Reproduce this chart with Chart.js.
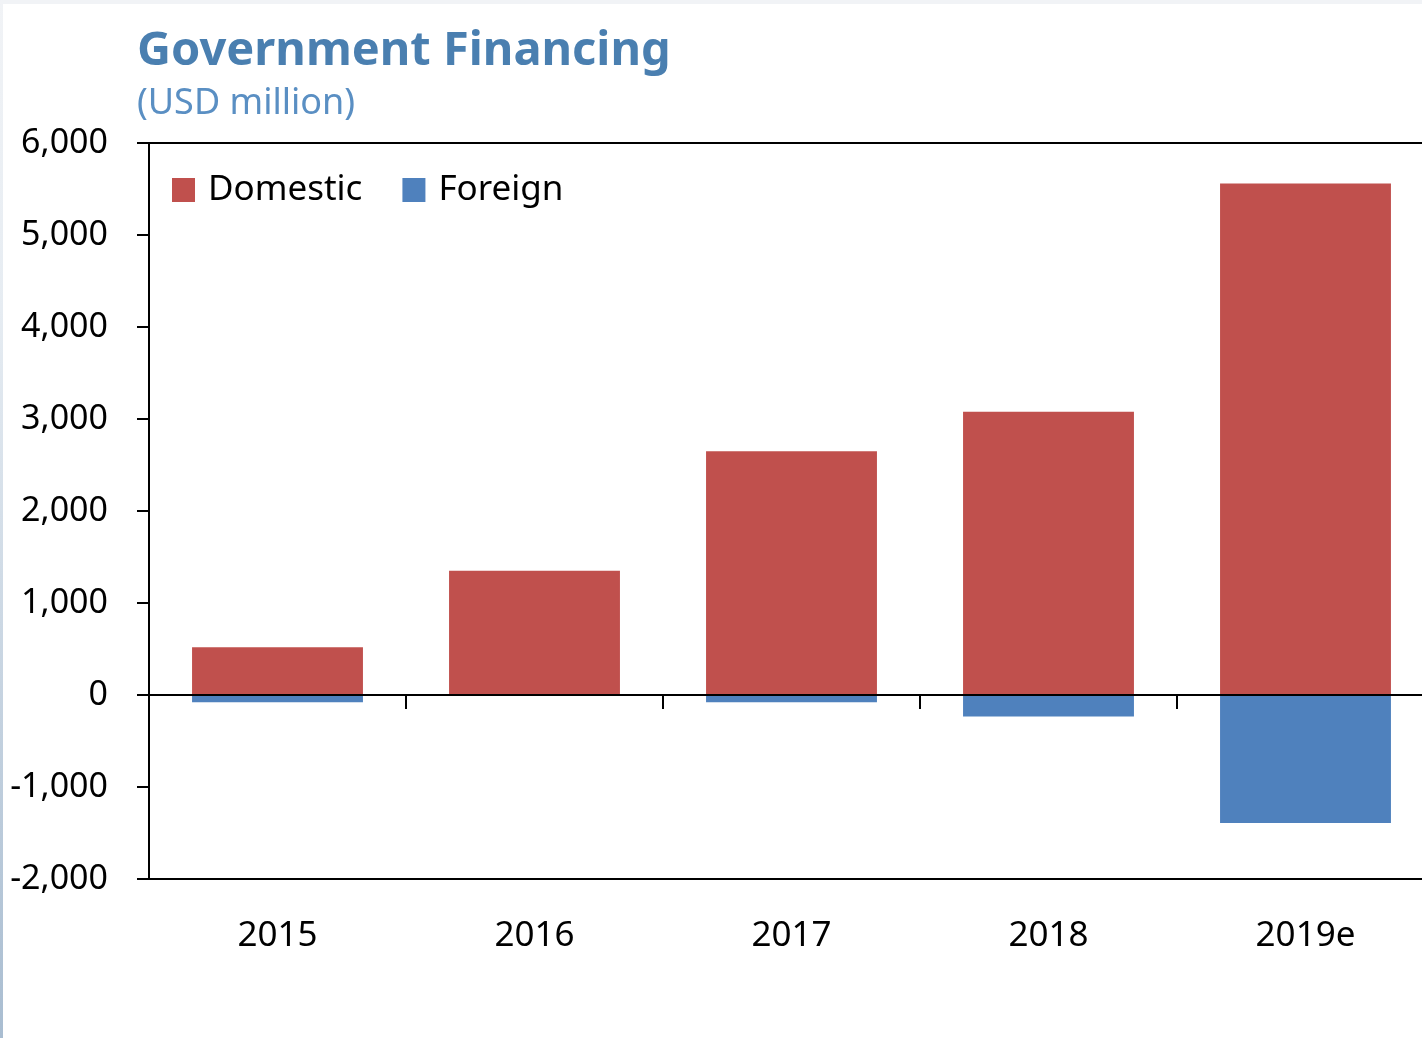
<!DOCTYPE html>
<html>
<head>
<meta charset="utf-8">
<title>Government Financing</title>
<script src="https://cdn.jsdelivr.net/npm/chart.js@4.4.1/dist/chart.umd.min.js"></script>
<style>
  html, body { margin: 0; padding: 0; background: #fff; overflow: hidden; }
  #wrap { position: relative; width: 1422px; height: 1038px; overflow: hidden; }
  #chart { position: absolute; left: 0; top: 0; }
  #topStrip { position: absolute; left: 0; top: 0; width: 1422px; height: 4px; background: #f1f3f6; }
  #leftStrip { position: absolute; left: 0; top: 0; width: 3px; height: 1038px;
    background: linear-gradient(#f1f3f6, #e6ecf2 30%, #a9bdd1); }
</style>
</head>
<body>
<div id="wrap">
  <canvas id="chart" width="1440" height="1038"></canvas>
  <div id="topStrip"></div>
  <div id="leftStrip"></div>
</div>
<script>
// ----------------------------------------
// Data
// ----------------------------------------
const categories = ['2015', '2016', '2017', '2018', '2019e'];
const domestic = [520, 1350, 2650, 3080, 5560];
const foreign = [-80, 0, -80, -235, -1390];
const yTicks = [-2000, -1000, 0, 1000, 2000, 3000, 4000, 5000, 6000];

const titleText = 'Government Financing';
const subtitleText = '(USD million)';

const FONT = '"Noto Sans", "Open Sans", sans-serif';

// Title + subtitle, left aligned just outside the y axis tick marks
const headings = {
  id: 'headings',
  afterDraw(chart) {
    const ctx = chart.ctx;
    const x = chart.chartArea.left - 12;
    ctx.save();
    ctx.textAlign = 'left';
    ctx.textBaseline = 'alphabetic';
    ctx.fillStyle = '#4a7fb0';
    ctx.font = 'bold 47px ' + FONT;
    ctx.fillText(titleText, x, 65);
    ctx.fillStyle = '#5a8fc3';
    ctx.font = '36px ' + FONT;
    ctx.fillText(subtitleText, x, 114);
    ctx.restore();
  }
};

// Legend drawn inside the plot frame, top-left
const insideLegend = {
  id: 'insideLegend',
  afterDraw(chart) {
    const ctx = chart.ctx;
    const area = chart.chartArea;
    let x = area.left + 23;
    const y = area.top + 47;
    ctx.save();
    ctx.font = '35px ' + FONT;
    ctx.textBaseline = 'middle';
    ctx.textAlign = 'left';
    chart.data.datasets.forEach(ds => {
      ctx.fillStyle = ds.backgroundColor;
      ctx.fillRect(x, y - 12, 23, 24);
      ctx.fillStyle = '#000';
      ctx.fillText(ds.label, x + 36, y);
      x += 36 + ctx.measureText(ds.label).width + 40;
    });
    ctx.restore();
  }
};

// Small tick marks on the zero line between categories
const zeroTicks = {
  id: 'zeroTicks',
  afterDatasetsDraw(chart) {
    const xs = chart.scales.x;
    const y0 = chart.scales.y.getPixelForValue(0);
    const ctx = chart.ctx;
    ctx.save();
    ctx.strokeStyle = '#000';
    ctx.lineWidth = 2;
    for (let i = 0; i < categories.length - 1; i++) {
      const xp = Math.round((xs.getPixelForValue(i) + xs.getPixelForValue(i + 1)) / 2);
      ctx.beginPath();
      ctx.moveTo(xp, y0);
      ctx.lineTo(xp, y0 + 14);
      ctx.stroke();
    }
    ctx.restore();
  }
};

new Chart(document.getElementById('chart'), {
  type: 'bar',
  data: {
    labels: categories,
    datasets: [
      {
        label: 'Domestic',
        data: domestic,
        backgroundColor: '#c0504d',
        barPercentage: 1,
        categoryPercentage: 0.665
      },
      {
        label: 'Foreign',
        data: foreign,
        backgroundColor: '#4f81bd',
        barPercentage: 1,
        categoryPercentage: 0.665
      }
    ]
  },
  options: {
    responsive: false,
    animation: false,
    layout: { padding: { left: 0, right: 6, top: 143, bottom: 0 } },
    plugins: {
      legend: { display: false },
      tooltip: { enabled: false },
      title: { display: false }
    },
    scales: {
      x: {
        stacked: true,
        afterFit(scale) {
          scale.height = 159;
        },
        grid: { display: false },
        border: { display: false },
        ticks: {
          color: '#000',
          padding: 28,
          font: { family: FONT, size: 35 }
        }
      },
      y: {
        stacked: true,
        min: -2000,
        max: 6000,
        afterBuildTicks(scale) {
          scale.ticks = yTicks.map(v => ({ value: v }));
        },
        afterFit(scale) {
          scale.width = 149;
        },
        border: { display: true, color: '#000', width: 2 },
        grid: {
          drawTicks: true,
          tickLength: 12,
          tickColor: '#000',
          lineWidth: 2,
          color: ctx => (ctx.tick && [6000, 0, -2000].includes(ctx.tick.value)) ? '#000' : 'rgba(0,0,0,0)'
        },
        ticks: {
          color: '#000',
          padding: 29,
          font: { family: FONT, size: 34 },
          callback: v => v.toLocaleString('en-US')
        }
      }
    }
  },
  plugins: [headings, insideLegend, zeroTicks]
});
</script>
</body>
</html>
